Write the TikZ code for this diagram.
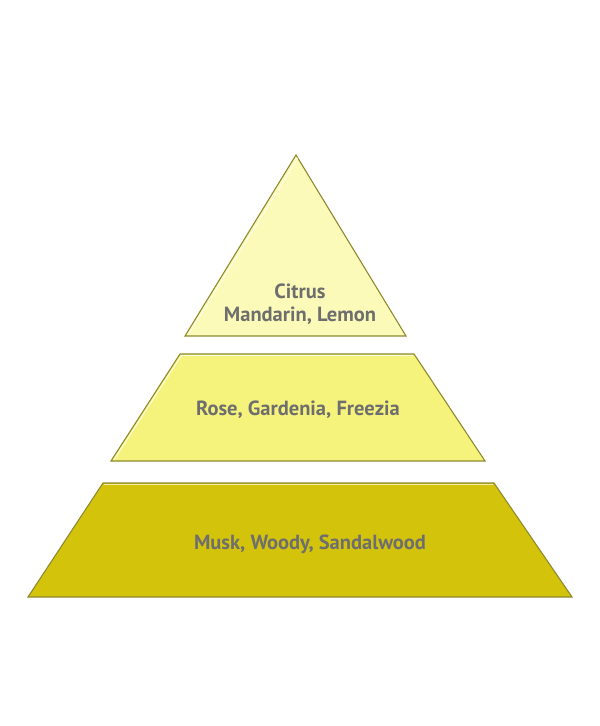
\documentclass[tikz,border=0pt]{standalone}
\usepackage{fontspec}
\setmainfont{PT Sans}
\definecolor{topfill}{HTML}{FBFAB8}
\definecolor{midfill}{HTML}{F6F37C}
\definecolor{botfill}{HTML}{D4C30B}
\definecolor{edgedark}{HTML}{8F8A2E}
\definecolor{edgelight}{HTML}{FFFFE6}
\definecolor{labelgray}{HTML}{6E6E6E}
\tikzset{
  layer/.style={draw=edgedark, line width=1.1pt, line join=miter},
  hilite/.style={draw=edgelight, line width=0.9pt},
  lbl/.style={font=\bfseries\fontsize{20.5}{23}\selectfont, text=labelgray, align=center, inner sep=0pt}
}
\begin{document}
\begin{tikzpicture}[x=1pt,y=-1pt]
\useasboundingbox[fill=white] (0,0) rectangle (600,726);
% top triangle
\coordinate (tA) at (296,155);
\coordinate (tL) at (185,336);
\coordinate (tR) at (406,336);
\fill[topfill] (tA) -- (tR) -- (tL) -- cycle;
\draw[layer] (tA) -- (tR) -- (tL) -- cycle;
\draw[hilite] ([shift={(2,3)}]tA) -- ([shift={(3.5,-1.5)}]tL);
% middle trapezoid
\coordinate (mTL) at (180,354);
\coordinate (mTR) at (414,354);
\coordinate (mBR) at (485,461);
\coordinate (mBL) at (111,461);
\fill[midfill] (mTL) -- (mTR) -- (mBR) -- (mBL) -- cycle;
\draw[layer] (mTL) -- (mTR) -- (mBR) -- (mBL) -- cycle;
\draw[hilite] ([shift={(1,1.5)}]mTL) -- ([shift={(-1,1.5)}]mTR);
\draw[hilite] ([shift={(1.5,1.5)}]mTL) -- ([shift={(3,-1.2)}]mBL);
% bottom trapezoid
\coordinate (bTL) at (103,483);
\coordinate (bTR) at (494,483);
\coordinate (bBR) at (572,597);
\coordinate (bBL) at (28,597);
\fill[botfill] (bTL) -- (bTR) -- (bBR) -- (bBL) -- cycle;
\draw[layer] (bTL) -- (bTR) -- (bBR) -- (bBL) -- cycle;
\draw[draw=edgelight!70!botfill, line width=0.9pt] ([shift={(1,1.5)}]bTL) -- ([shift={(-1,1.5)}]bTR);
% labels
\node[lbl] (topText) at (300,304) {Citrus\\Mandarin, Lemon};
\node[lbl] (midText) at (298,410) {Rose, Gardenia, Freezia};
\node[lbl] (botText) at (310,544) {Musk, Woody, Sandalwood};
\end{tikzpicture}
\end{document}
